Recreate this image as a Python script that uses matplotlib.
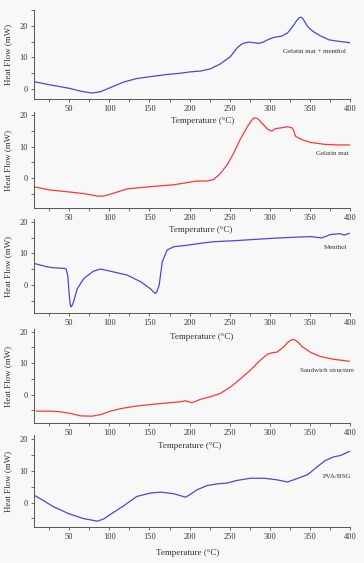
import numpy as np
import matplotlib
matplotlib.use('Agg')
import matplotlib.pyplot as plt
from matplotlib.ticker import MultipleLocator

plt.rcParams['font.family'] = ['Liberation Serif', 'DejaVu Serif']

# curves (temperature in C, heat flow in mW)
t1 = [6, 26, 50, 64, 78, 89, 100, 118, 134, 151, 172, 189, 200, 214, 226, 238, 251, 259, 264, 268, 274,
      280, 286, 292, 297, 305, 315, 322, 326, 330, 334, 337, 339, 341, 344, 347, 351, 355, 363, 374, 384, 400]
hf1 = [2.3, 1.3, 0.2, -0.7, -1.3, -0.9, 0.3, 2.2, 3.3, 3.9, 4.6, 5.0, 5.4, 5.7, 6.4, 7.9, 10.3, 13.0, 14.1, 14.6, 14.9,
       14.7, 14.5, 14.9, 15.6, 16.4, 16.8, 17.8, 19.0, 20.4, 21.9, 22.7, 22.8, 22.4, 21.2, 19.9, 18.9, 18.1, 16.9, 15.6, 15.2, 14.7]

t2 = [7, 26, 50, 68, 85, 93, 105, 122, 151, 180, 197, 209, 222, 230, 238, 247, 255, 263, 272, 278,
      281, 284, 287, 290, 297, 301, 303, 307, 313, 322, 328, 330, 332, 336, 340, 351, 368, 384, 400]
hf2 = [-2.9, -3.85, -4.5, -5.0, -5.8, -5.8, -4.9, -3.5, -2.8, -2.2, -1.5, -1.0, -1.0, -0.5, 1.3, 4.2, 7.9, 12.2, 16.3, 18.6,
       19.1, 19.0, 18.4, 17.5, 15.6, 15.0, 15.0, 15.7, 15.9, 16.3, 15.9, 14.9, 13.3, 12.7, 12.2, 11.3, 10.7, 10.5, 10.5]

t3 = [7, 22, 30, 44, 46, 48, 50, 51, 52, 53, 55, 60, 68, 80, 89, 105, 122, 139, 151, 155, 157, 159, 162, 166, 172,
      180, 197, 214, 230, 255, 280, 305, 330, 351, 365, 376, 388, 393, 399]
hf3 = [6.8, 5.8, 5.5, 5.3, 5.1, 3.2, -3.2, -5.8, -6.8, -6.6, -5.5, -1.1, 2.1, 4.4, 5.1, 4.2, 3.2, 1.1, -1.1, -2.1, -2.6, -2.2, 0.0, 7.4, 11.1,
       12.1, 12.6, 13.2, 13.7, 14.0, 14.4, 14.8, 15.1, 15.3, 14.9, 16.0, 16.2, 15.8, 16.3]

t4 = [9, 26, 39, 51, 64, 78, 89, 101, 114, 130, 151, 172, 189, 195, 203, 214, 226, 238, 251, 263,
      276, 288, 297, 303, 309, 318, 322, 326, 329, 332, 336, 340, 351, 363, 380, 399]
hf4 = [-5.3, -5.3, -5.5, -6.0, -6.8, -6.9, -6.4, -5.3, -4.5, -3.8, -3.2, -2.7, -2.3, -2.0, -2.6, -1.5, -0.7, 0.3, 2.4, 4.9,
       7.8, 10.9, 12.8, 13.3, 13.5, 15.3, 16.5, 17.3, 17.5, 17.3, 16.5, 15.3, 13.4, 12.1, 11.2, 10.6]

t5 = [7, 18, 30, 50, 68, 85, 93, 101, 118, 134, 151, 164, 180, 195, 201, 209, 222, 234, 247, 259,
      276, 293, 309, 322, 334, 347, 359, 369, 380, 388, 400]
hf5 = [2.2, 0.6, -1.3, -3.6, -5.1, -5.9, -5.2, -3.8, -1.0, 1.9, 3.0, 3.3, 2.8, 1.7, 2.6, 4.0, 5.4, 5.9, 6.2, 7.0,
       7.7, 7.7, 7.2, 6.5, 7.6, 8.8, 11.3, 13.3, 14.5, 14.9, 16.3]

names = ['Gelatin mat + menthol', 'Gelatin mat', 'Menthol', 'Sandwich structure', 'PVA/BSG']
series = [(t1, hf1), (t2, hf2), (t3, hf3), (t4, hf4), (t5, hf5)]
blue = '#4848d8'
red = '#ff3636'
colors = [blue, red, blue, red, blue]

W, H = 364, 563
# pixel boxes: top, bottom, ylim
boxes = [(10, 99, (-3.2, 25.1)), (112, 208, (-9.6, 21.0)), (219, 313, (-8.75, 20.85)),
         (329, 423, (-9.07, 20.86)), (435, 527, (-7.75, 21.4))]
label_pos = [(395, 12.0), (399, 7.8), (397, 11.9), (405, 7.5), (401, 8.2)]
xlab_px = [(203, 117), (201, 226), (202, 333), (190, 442), (188, 549)]

fig = plt.figure(figsize=(W / 100, H / 100), dpi=100, facecolor='#f8f8f8')
L, R = 34, 350

for i, (top, bot, yl) in enumerate(boxes):
    ax = fig.add_axes([L / W, 1 - bot / H, (R - L) / W, (bot - top) / H])
    ax.patch.set_visible(False)
    t, hf = series[i]
    ax.plot(t, hf, color=colors[i], lw=0.9, solid_joinstyle='round')
    ax.set_xlim(6, 400)
    ax.set_ylim(*yl)
    for s in ['top', 'right']:
        ax.spines[s].set_visible(False)
    for s in ['left', 'bottom']:
        ax.spines[s].set_color('#555555')
        ax.spines[s].set_linewidth(0.7)
    ax.xaxis.set_major_locator(MultipleLocator(50))
    ax.xaxis.set_minor_locator(MultipleLocator(25))
    ax.yaxis.set_major_locator(MultipleLocator(10))
    ax.yaxis.set_minor_locator(MultipleLocator(5))
    ax.tick_params(which='both', direction='out', color='#555555', width=0.6,
                   labelsize=6, labelcolor='#333333', pad=2)
    ax.tick_params(which='major', length=2.5)
    ax.tick_params(which='minor', length=2)
    ax.set_xticks([50, 100, 150, 200, 250, 300, 350, 400])
    ax.set_yticks([0, 10, 20])
    ax.set_xlabel('Temperature (\u00b0C)', fontsize=6.5, color='#333333')
    ax.xaxis.set_label_coords(xlab_px[i][0] / W, 1 - xlab_px[i][1] / H, transform=fig.transFigure)
    ax.set_ylabel('Heat Flow (mW)', fontsize=6.5, color='#333333')
    ax.yaxis.set_label_coords(12.5 / W, 1 - (top + bot) / 2 / H, transform=fig.transFigure)
    ax.text(label_pos[i][0], label_pos[i][1], names[i], fontsize=5, color='#333333',
            ha='right', va='center', clip_on=False)

fig.savefig('out.png', dpi=100, facecolor=fig.get_facecolor())
